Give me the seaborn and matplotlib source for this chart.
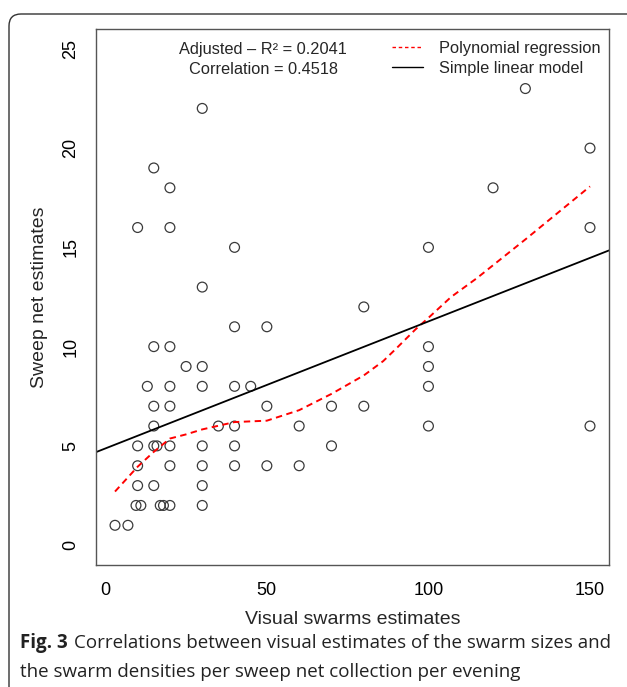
import numpy as np
import pandas as pd
import matplotlib
matplotlib.use("Agg")
import matplotlib.pyplot as plt
from matplotlib.patches import FancyBboxPatch
from matplotlib.lines import Line2D
import seaborn as sns

# data
visual = [3, 7, 10, 10, 10, 10, 9.5, 11, 13,
          15, 15, 15, 15, 15, 15, 16, 17, 18,
          20, 20, 20, 20, 20, 20, 20, 20, 25,
          30, 30, 30, 30, 30, 30, 30, 30, 35,
          40, 40, 40, 40, 40, 40, 45, 50, 50, 50,
          60, 60, 70, 70, 80, 80,
          100, 100, 100, 100, 100, 120, 130, 150, 150, 150]
sweep = [1, 1, 16, 5, 4, 3, 2, 2, 8,
         19, 10, 7, 6, 5, 3, 5, 2, 2,
         18, 16, 10, 8, 7, 5, 4, 2, 9,
         22, 13, 9, 8, 5, 4, 3, 2, 6,
         15, 11, 8, 6, 5, 4, 8, 11, 7, 4,
         6, 4, 7, 5, 12, 7,
         15, 10, 9, 8, 6, 18, 23, 20, 16, 6]

# smoothed (polynomial regression) curve
poly_x = [3, 10, 15, 20, 25, 30, 40, 50, 60, 70, 80, 86, 90, 96, 100, 107, 115, 130, 150]
poly_y = [2.7, 3.95, 4.7, 5.37, 5.58, 5.83, 6.2, 6.27, 6.8, 7.62, 8.55, 9.27, 9.9, 10.87,
          11.45, 12.5, 13.45, 15.4, 18.07]

# simple linear model as drawn in the figure
lm_intercept = 4.87
lm_slope = 0.064

df = pd.DataFrame({"visual": visual, "sweep": sweep})
curve = pd.DataFrame({"x": poly_x, "y": poly_y})

sns.set_style("white")
plt.rcParams["font.family"] = ["Liberation Sans", "DejaVu Sans"]

fig = plt.figure(figsize=(6.27, 6.87), dpi=100)
ax = fig.add_axes([96 / 627, 1 - 565 / 687, (609 - 96) / 627, (565 - 29) / 687])
ax.set_xlim(-2.88, 155.88)
ax.set_ylim(-1, 26)

sns.scatterplot(data=df, x="visual", y="sweep", ax=ax, s=50, marker="o",
                facecolor="none", edgecolor="#3a3a3a", linewidth=0.9, legend=False)
sns.lineplot(data=curve, x="x", y="y", ax=ax, color="red", linestyle=(0, (3.3, 2.3)),
             linewidth=1.4, sort=False)
ax.axline((0, lm_intercept), slope=lm_slope, color="black", linewidth=1.3)

ax.set_xticks([0, 50, 100, 150])
ax.set_yticks([0, 5, 10, 15, 20, 25])
for sp in ax.spines.values():
    sp.set_color("#555555")
    sp.set_linewidth(1)
ax.tick_params(axis="both", direction="out", length=7, width=1, color="#555555",
               labelsize=13, labelcolor="black", pad=5)
ax.tick_params(axis="y", labelrotation=90)
for lab in ax.get_yticklabels():
    lab.set_va("center")
ax.set_xlabel("Visual swarms estimates", fontsize=14, labelpad=9)
ax.set_ylabel("Sweep net estimates", fontsize=14, labelpad=10)

ax.text(48.9, 24.95, "Adjusted – R² = 0.2041", ha="center", va="center", fontsize=11.8)
ax.text(48.9, 23.94, "Correlation = 0.4518", ha="center", va="center", fontsize=11.8)

handles = [Line2D([], [], color="red", linestyle=(0, (2.5, 2)), linewidth=1),
           Line2D([], [], color="black", linewidth=1)]
ax.legend(handles, ["Polynomial regression", "Simple linear model"], loc="upper right",
          bbox_to_anchor=(1.0, 1 - 4 / 536), frameon=False, fontsize=11.8, handlelength=1.85,
          handletextpad=1.0, labelspacing=0.3, borderaxespad=0.1, borderpad=0.4)

# frame around the figure panel (top and left only visible)
frame = FancyBboxPatch((0.09, -1), 10, 7.73, boxstyle="round,pad=0,rounding_size=0.12",
                       transform=fig.dpi_scale_trans, fill=False, edgecolor="#333333",
                       linewidth=1)
fig.add_artist(frame)

cap = ["Correlations between visual estimates of the swarm sizes and",
       "the swarm densities per sweep net collection per evening"]
fig.text(20 / 627, 1 - 643 / 687, "Fig. 3", fontsize=13.5, fontweight="bold",
         family="Open Sans", va="center", color="#222222")
fig.text(74 / 627, 1 - 643 / 687, cap[0], fontsize=13.5, family="Open Sans",
         va="center", color="#222222")
fig.text(20 / 627, 1 - 672 / 687, cap[1], fontsize=13.5, family="Open Sans",
         va="center", color="#222222")

fig.savefig("out.png", dpi=100)
